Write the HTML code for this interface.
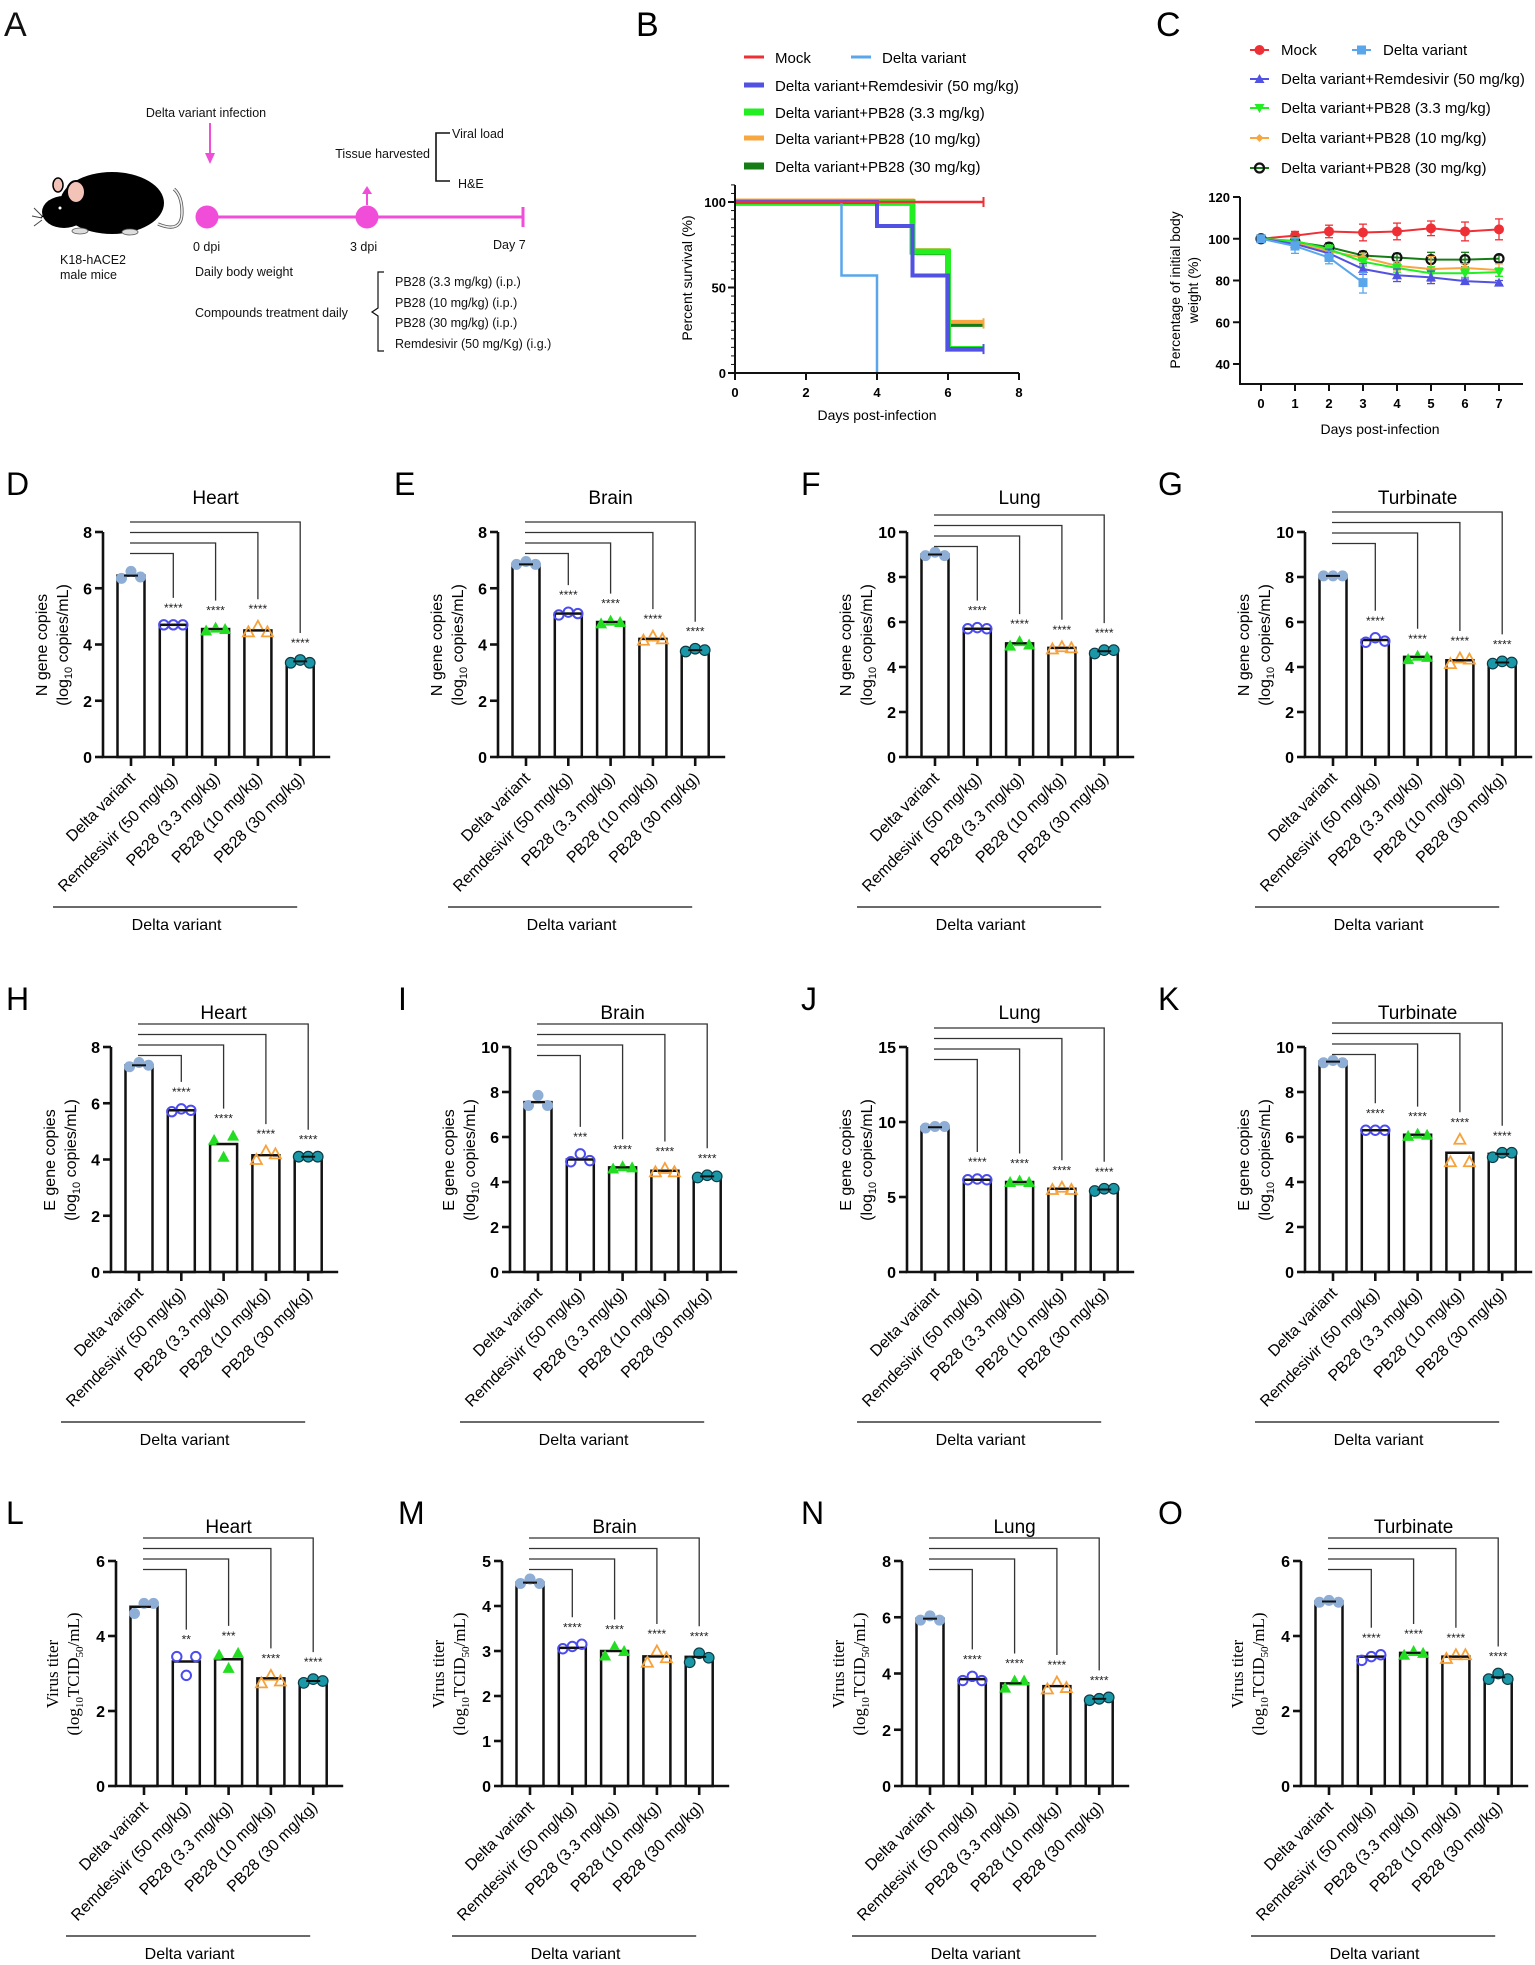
<!DOCTYPE html>
<html><head><meta charset="utf-8"><title>Delta variant PB28 figure</title>
<style>
html,body{margin:0;padding:0;background:#fff;}
svg{display:block;font-family:"Liberation Sans",Arial,sans-serif;}
</style></head>
<body>
<svg id="fig" width="1535" height="1965" viewBox="0 0 1535 1965" xmlns="http://www.w3.org/2000/svg">
<!-- Panel A schematic -->
<g font-size="12.5" fill="#111">
  <text x="4" y="36" font-size="34">A</text>
  <g>
    <path d="M158 224 Q182 234 182 212 Q182 196 174 189" fill="none" stroke="#555" stroke-width="3.2"/>
    <path d="M158 224 Q182 234 182 212 Q182 196 174 189" fill="none" stroke="#eee" stroke-width="1.6"/>
    <ellipse cx="112" cy="203" rx="52" ry="31" fill="#000"/>
    <ellipse cx="64" cy="212" rx="22" ry="16" fill="#000"/>
    <path d="M40 218 L60 198 L80 205 Z" fill="#000"/>
    <ellipse cx="76" cy="192" rx="9" ry="11" fill="#f4c3b8" stroke="#000" stroke-width="2"/>
    <ellipse cx="58" cy="185" rx="5" ry="7" fill="#f4c3b8" stroke="#000" stroke-width="1.5"/>
    <circle cx="60" cy="208" r="1.5" fill="#fff"/>
    <line x1="42" y1="216" x2="34" y2="208" stroke="#444"/><line x1="42" y1="218" x2="32" y2="216" stroke="#444"/><line x1="42" y1="220" x2="34" y2="226" stroke="#444"/>
    <ellipse cx="80" cy="231" rx="8" ry="3" fill="#ddd" stroke="#555" stroke-width="0.8"/>
    <ellipse cx="130" cy="232" rx="8" ry="3" fill="#ddd" stroke="#555" stroke-width="0.8"/>
  </g>
  <text x="60" y="264">K18-hACE2</text>
  <text x="60" y="279">male mice</text>
  <text x="206" y="117" text-anchor="middle">Delta variant infection</text>
  <line x1="210" y1="123" x2="210" y2="155" stroke="#f04ed8" stroke-width="2"/>
  <polygon points="205,153 215,153 210,164" fill="#f04ed8"/>
  <line x1="207" y1="217" x2="523" y2="217" stroke="#f04ed8" stroke-width="3"/>
  <line x1="523" y1="207" x2="523" y2="227" stroke="#f04ed8" stroke-width="3"/>
  <circle cx="207" cy="217" r="11.5" fill="#f04ed8"/>
  <circle cx="367" cy="217" r="11.5" fill="#f04ed8"/>
  <line x1="367" y1="205" x2="367" y2="193" stroke="#f04ed8" stroke-width="2"/>
  <polygon points="362,194 372,194 367,186" fill="#f04ed8"/>
  <text x="193" y="251">0 dpi</text>
  <text x="350" y="251">3 dpi</text>
  <text x="493" y="249">Day 7</text>
  <text x="430" y="158" text-anchor="end">Tissue harvested</text>
  <path d="M450 133 H436 V181 H450" fill="none" stroke="#111" stroke-width="1.6"/>
  <text x="452" y="138">Viral load</text>
  <text x="458" y="188">H&amp;E</text>
  <text x="195" y="276">Daily body weight</text>
  <text x="195" y="317">Compounds treatment daily</text>
  <path d="M384 272 H378 V308 L372 312 L378 316 V351 H384" fill="none" stroke="#111" stroke-width="1.2"/>
  <text x="395" y="286">PB28 (3.3 mg/kg) (i.p.)</text>
  <text x="395" y="307">PB28 (10 mg/kg) (i.p.)</text>
  <text x="395" y="327">PB28 (30 mg/kg) (i.p.)</text>
  <text x="395" y="348">Remdesivir (50 mg/Kg) (i.g.)</text>
</g>
<g id="dyn"></g>
</svg>
<script>
// ---------- Panel B survival data ----------
const survDays = [0,1,2,3,4,5,6,7];
const survMock = [100,100,100,100,100,100,100,100];
const survDelta = [100,100,100,57,0];
const survRem = [100,100,100,100,86,57,14,14];
const survPB3 = [100,100,100,100,100,71,14,14];
const survPB10 = [100,100,100,100,100,71,29,29];
const survPB30 = [100,100,100,100,100,71,29,29];
const survTicksX = [0,2,4,6,8];
const survTicksY = [0,50,100];
// ---------- Panel C body weight data ----------
const wDays = [0,1,2,3,4,5,6,7];
const wMock = [100,101.5,103.5,103,103.5,105,103.5,104.5];
const wMockErr = [1,2,3,4,4,3.5,4.5,5];
const wDelta = [100,96.5,91,79];
const wDeltaErr = [1,3.5,3,5];
const wRem = [100,97.5,93,85.5,82.5,81.5,79.7,79];
const wRemErr = [1,2,2,2.5,3,3,1,1];
const wPB3 = [100,99,95,89,86,83.5,83.5,84];
const wPB3Err = [1,1,2,2,2,3,2,2];
const wPB10 = [100,98,94,91,87,85.5,86,85];
const wPB10Err = [1,1.5,2,2,2,6,2,3];
const wPB30 = [100,98.5,96,92,91,90,90,90.5];
const wPB30Err = [1,1.5,2,2,2,3.5,3.5,1.5];
const wTicksY = [40,60,80,100,120];
// ---------- Bar panel data ----------
const groups = ["Delta variant","Remdesivir (50 mg/kg)","PB28 (3.3 mg/kg)","PB28 (10 mg/kg)","PB28 (30 mg/kg)"];
const dMeans = [6.45,4.7,4.55,4.5,3.4];
const dPts = [[6.35,6.6,6.4],[4.7,4.7,4.7],[4.5,4.6,4.55],[4.45,4.65,4.45],[3.35,3.45,3.35]];
const dStars = ["****","****","****","****"];
const eMeans = [6.85,5.1,4.8,4.2,3.8];
const ePts = [[6.85,6.95,6.85],[5.05,5.15,5.1],[4.75,4.85,4.8],[4.15,4.3,4.2],[3.75,3.85,3.8]];
const eStars = ["****","****","****","****"];
const fMeans = [9.0,5.7,5.05,4.85,4.7];
const fPts = [[8.95,9.1,8.95],[5.7,5.75,5.7],[4.95,5.15,5.0],[4.8,4.9,4.85],[4.6,4.75,4.75]];
const fStars = ["****","****","****","****"];
const gMeans = [8.05,5.2,4.45,4.3,4.2];
const gPts = [[8.05,8.05,8.05],[5.1,5.3,5.15],[4.35,4.5,4.45],[4.15,4.4,4.35],[4.15,4.25,4.2]];
const gStars = ["****","****","****","****"];
const hMeans = [7.35,5.75,4.55,4.15,4.1];
const hPts = [[7.3,7.45,7.35],[5.7,5.8,5.75],[4.7,4.1,4.85],[4.0,4.3,4.2],[4.1,4.1,4.1]];
const hStars = ["****","****","****","****"];
const iMeans = [7.55,5.0,4.65,4.5,4.25];
const iPts = [[7.4,7.85,7.4],[4.9,5.25,4.95],[4.6,4.7,4.65],[4.45,4.6,4.45],[4.2,4.3,4.25]];
const iStars = ["***","****","****","****"];
const jMeans = [9.65,6.15,6.0,5.55,5.5];
const jPts = [[9.6,9.7,9.7],[6.15,6.2,6.15],[6.0,6.1,6.0],[5.5,5.65,5.5],[5.4,5.55,5.55]];
const jStars = ["****","****","****","****"];
const kMeans = [9.35,6.3,6.1,5.3,5.25];
const kPts = [[9.3,9.4,9.3],[6.3,6.3,6.3],[6.05,6.15,6.1],[4.9,5.9,4.9],[5.1,5.3,5.3]];
const kStars = ["****","****","****","****"];
const lMeans = [4.78,3.32,3.38,2.87,2.8];
const lPts = [[4.6,4.87,4.87],[3.45,2.95,3.45],[3.5,3.15,3.55],[2.75,2.95,2.8],[2.75,2.85,2.8]];
const lStars = ["**","***","****","****"];
const mMeans = [4.52,3.07,3.0,2.88,2.87];
const mPts = [[4.5,4.6,4.5],[3.05,3.1,3.15],[2.9,3.1,3.0],[2.75,3.0,2.85],[2.75,2.95,2.85]];
const mStars = ["****","****","****","****"];
const nMeans = [5.95,3.8,3.65,3.55,3.1];
const nPts = [[5.9,6.05,5.9],[3.75,3.9,3.75],[3.5,3.75,3.75],[3.45,3.7,3.5],[3.05,3.1,3.15]];
const nStars = ["****","****","****","****"];
const oMeans = [4.92,3.45,3.55,3.45,2.9];
const oPts = [[4.9,4.95,4.9],[3.35,3.45,3.5],[3.5,3.6,3.55],[3.4,3.5,3.5],[2.85,3.0,2.85]];
const oStars = ["****","****","****","****"];
const ticks8 = [0,2,4,6,8], ticks10 = [0,2,4,6,8,10], ticks15 = [0,5,10,15], ticks6 = [0,2,4,6], ticks5 = [0,1,2,3,4,5];

const NS = "http://www.w3.org/2000/svg";
const root = document.getElementById('dyn');
function mk(tag, attrs, parent){
  const el = document.createElementNS(NS, tag);
  for (const k in attrs) el.setAttribute(k, attrs[k]);
  (parent||root).appendChild(el);
  return el;
}
function txt(s, attrs, parent){ const t = mk('text', attrs, parent); t.textContent = s; return t; }

// ================= Panel B =================
(function(){
  const g = mk('g', {});
  
  
  const xB = d => 735 + d*35.5;
  const yB = p => 373 - p*1.71;
  let t = txt('B', {x:636, y:36, 'font-size':34}, g);
  
  
  const series = [
    {n:'PB28 (30 mg/kg)', d:survPB30, c:'#167d16', w:4, dy:1.5},
    {n:'PB28 (10 mg/kg)', d:survPB10, c:'#f7a640', w:4, dy:-1.5},
    {n:'PB28 (3.3 mg/kg)', d:survPB3, c:'#22ee22', w:6, dy:0},
    {n:'Remdesivir', d:survRem, c:'#5252e2', w:4, dy:0},
    {n:'Delta variant', d:survDelta, c:'#5aa6ea', w:2.5, dy:0},
    {n:'Mock', d:survMock, c:'#ee3036', w:2.5, dy:0}
  ];
  series.forEach(s=>{
    let p = 'M' + xB(survDays[0]) + ' ' + (yB(s.d[0])+s.dy);
    for (let i=1;i<s.d.length;i++){ p += ' H' + xB(survDays[i]) + ' V' + (yB(s.d[i])+s.dy); }
    const path = mk('path', {d:p, fill:'none', stroke:s.c, 'stroke-width':s.w}, g);
    
    
    if (s.d.length === 8){ mk('line', {x1:xB(7), x2:xB(7), y1:yB(s.d[7])-5, y2:yB(s.d[7])+5, stroke:s.c, 'stroke-width':2}, g); }
  });
  const ax = mk('path', {d:'M735 185 V373 H1019', fill:'none', stroke:'#111', 'stroke-width':2}, g);
  
  
  for (let v=0; v<=110; v+=5){ mk('line', {x1:731, x2:735, y1:yB(v), y2:yB(v), stroke:'#111', 'stroke-width':1}, g); }
  survTicksY.forEach(v=>{
    mk('line', {x1:728, x2:735, y1:yB(v), y2:yB(v), stroke:'#111', 'stroke-width':2}, g);
    const tl = txt(String(v), {x:726, y:yB(v)+5, 'text-anchor':'end', 'font-size':13, 'font-weight':'bold'}, g);
    
    
  });
  survTicksX.forEach(v=>{
    mk('line', {x1:xB(v), x2:xB(v), y1:373, y2:380, stroke:'#111', 'stroke-width':2}, g);
    const tl = txt(String(v), {x:xB(v), y:397, 'text-anchor':'middle', 'font-size':13, 'font-weight':'bold'}, g);
    
    
  });
  t = txt('Days post-infection', {x:877, y:420, 'text-anchor':'middle', 'font-size':14}, g);
  
  
  t = txt('Percent survival (%)', {x:0, y:0, 'text-anchor':'middle', 'font-size':14, transform:'translate(692,278) rotate(-90)'}, g);
  
  
  const leg = [
    ['Mock','#ee3036',744,58,3],['Delta variant','#5aa6ea',851,58,3],
    ['Delta variant+Remdesivir (50 mg/kg)','#5252e2',744,86,5],
    ['Delta variant+PB28 (3.3 mg/kg)','#22ee22',744,113,7],
    ['Delta variant+PB28 (10 mg/kg)','#f7a640',744,139,5],
    ['Delta variant+PB28 (30 mg/kg)','#167d16',744,167,7]
  ];
  leg.forEach(l=>{
    const lg = mk('g', {}, g);
    
    
    mk('rect', {x:l[2], y:l[3]-l[4]/2-1, width:20, height:l[4], fill:l[1]}, lg);
    txt(l[0], {x:l[2]+31, y:l[3]+5, 'font-size':15}, lg);
  });
})();

// ================= Panel C =================
(function(){
  const g = mk('g', {});
  
  
  const xC = d => 1261 + d*34;
  const yC = v => 364 - (v-40)*2.0875;
  let t = txt('C', {x:1156, y:36, 'font-size':34}, g);
  
  
  const series = [
    {n:'mock', d:wMock, e:wMockErr, c:'#ee3036', m:'circle'},
    {n:'pb28-30', d:wPB30, e:wPB30Err, c:'#167d16', m:'ocircle'},
    {n:'pb28-10', d:wPB10, e:wPB10Err, c:'#f7a640', m:'diamond'},
    {n:'pb28-3', d:wPB3, e:wPB3Err, c:'#22ee22', m:'tridown'},
    {n:'remdesivir', d:wRem, e:wRemErr, c:'#5252e2', m:'triup'},
    {n:'delta', d:wDelta, e:wDeltaErr, c:'#5aa6ea', m:'square'}
  ];
  function mark(parent, m, x, y, c){
    if (m==='circle') return mk('circle', {cx:x, cy:y, r:5, fill:c}, parent);
    if (m==='ocircle') return mk('circle', {cx:x, cy:y, r:4.5, fill:'none', stroke:'#111', 'stroke-width':2.2}, parent);
    if (m==='square') return mk('rect', {x:x-4.5, y:y-4.5, width:9, height:9, fill:c}, parent);
    if (m==='triup') return mk('polygon', {points:`${x-5},${y+4} ${x+5},${y+4} ${x},${y-5}`, fill:c}, parent);
    if (m==='tridown') return mk('polygon', {points:`${x-5},${y-4} ${x+5},${y-4} ${x},${y+5}`, fill:c}, parent);
    return mk('polygon', {points:`${x-4},${y} ${x},${y-4} ${x+4},${y} ${x},${y+4}`, fill:c}, parent);
  }
  series.forEach(s=>{
    const sg = mk('g', {}, g);
    
    
    s.d.forEach((v,i)=>{
      const x = xC(wDays[i]);
      mk('line', {x1:x, x2:x, y1:yC(v+s.e[i]), y2:yC(v-s.e[i]), stroke:s.c, 'stroke-width':1.3}, sg);
      mk('line', {x1:x-4, x2:x+4, y1:yC(v+s.e[i]), y2:yC(v+s.e[i]), stroke:s.c, 'stroke-width':1.3}, sg);
      mk('line', {x1:x-4, x2:x+4, y1:yC(v-s.e[i]), y2:yC(v-s.e[i]), stroke:s.c, 'stroke-width':1.3}, sg);
    });
    const pts = s.d.map((v,i)=> xC(wDays[i]) + ',' + yC(v)).join(' ');
    mk('polyline', {points:pts, fill:'none', stroke:s.c, 'stroke-width':2}, sg);
    s.d.forEach((v,i)=>{
      const mkEl = mark(sg, s.m, xC(wDays[i]), yC(v), s.c);
      
      
    });
  });
  const ax = mk('path', {d:'M1240 197 V384 H1523', fill:'none', stroke:'#111', 'stroke-width':2}, g);
  
  
  wTicksY.forEach(v=>{
    mk('line', {x1:1233, x2:1240, y1:yC(v), y2:yC(v), stroke:'#111', 'stroke-width':2}, g);
    const tl = txt(String(v), {x:1230, y:yC(v)+5, 'text-anchor':'end', 'font-size':13, 'font-weight':'bold'}, g);
    
    
  });
  wDays.forEach(v=>{
    mk('line', {x1:xC(v), x2:xC(v), y1:384, y2:391, stroke:'#111', 'stroke-width':2}, g);
    const tl = txt(String(v), {x:xC(v), y:408, 'text-anchor':'middle', 'font-size':13, 'font-weight':'bold'}, g);
    
    
  });
  t = txt('Days post-infection', {x:1380, y:434, 'text-anchor':'middle', 'font-size':14}, g);
  
  
  t = txt('Percentage of initial body', {x:0, y:0, 'text-anchor':'middle', 'font-size':14, transform:'translate(1180,290) rotate(-90)'}, g);
  
  
  t = txt('weight (%)', {x:0, y:0, 'text-anchor':'middle', 'font-size':14, transform:'translate(1198,290) rotate(-90)'}, g);
  
  
  const leg = [
    ['Mock','#ee3036',1250,50,'circle'],['Delta variant','#5aa6ea',1352,50,'square'],
    ['Delta variant+Remdesivir (50 mg/kg)','#5252e2',1250,79,'triup'],
    ['Delta variant+PB28 (3.3 mg/kg)','#22ee22',1250,108,'tridown'],
    ['Delta variant+PB28 (10 mg/kg)','#f7a640',1250,138,'diamond'],
    ['Delta variant+PB28 (30 mg/kg)','#167d16',1250,168,'ocircle']
  ];
  leg.forEach(l=>{
    const lg = mk('g', {}, g);
    
    
    mk('line', {x1:l[2], x2:l[2]+19, y1:l[3], y2:l[3], stroke:l[1], 'stroke-width':2}, lg);
    mark(lg, l[4], l[2]+9.5, l[3], l[1]);
    txt(l[0], {x:l[2]+31, y:l[3]+5, 'font-size':15}, lg);
  });
})();

// ================= Bar panels =================
const gColors = ['#8eaed6','#4b4bf0','#22dd22','#f7a13a','#1b98a8'];
function drawMarker(parent, gi, x, y){
  let el;
  if (gi===0) el = mk('circle', {cx:x, cy:y, r:5.5, fill:gColors[0]}, parent);
  else if (gi===1) el = mk('circle', {cx:x, cy:y, r:4.7, fill:'none', stroke:gColors[1], 'stroke-width':2}, parent);
  else if (gi===2) el = mk('polygon', {points:`${x-6},${y+5} ${x+6},${y+5} ${x},${y-6}`, fill:gColors[2]}, parent);
  else if (gi===3) el = mk('polygon', {points:`${x-5.5},${y+4.5} ${x+5.5},${y+4.5} ${x},${y-5.5}`, fill:'none', stroke:gColors[3], 'stroke-width':1.8}, parent);
  else el = mk('circle', {cx:x, cy:y, r:5.3, fill:gColors[4], stroke:'#0b3a45', 'stroke-width':1.2}, parent);
  return el;
}
function barPanel(c){
  const g = mk('g', {});
  
  
  const top = c.y0 - 225;
  const y = v => c.y0 - v/c.max*225;
  const bx = i => c.ax + 28 + i*42.3;
  let t = txt(c.letter, {x:c.lx, y:c.y0-262, 'font-size':32}, g);
  
  
  t = txt(c.title, {x:bx(2), y:top-28, 'text-anchor':'middle', 'font-size':19}, g);
  
  
  c.means.forEach((m,i)=>{
    const r = mk('rect', {x:bx(i)-13.5, y:y(m), width:27, height:c.y0-y(m), fill:'#fff', stroke:'#111', 'stroke-width':2.5}, g);
    
    
  });
  c.pts.forEach((arr,i)=>{
    arr.forEach((v,j)=>{
      const p = drawMarker(g, i, bx(i) + (j-1)*9.5, y(v));
      
      
    });
    mk('line', {x1:bx(i)-7, x2:bx(i)+7, y1:y(c.means[i]), y2:y(c.means[i]), stroke:'#111', 'stroke-width':2}, g);
  });
  const ax = mk('path', {d:`M${c.ax} ${top} V${c.y0} H${bx(4)+30}`, fill:'none', stroke:'#111', 'stroke-width':2.6}, g);
  
  
  c.ticks.forEach(v=>{
    mk('line', {x1:c.ax-8, x2:c.ax, y1:y(v), y2:y(v), stroke:'#111', 'stroke-width':2.6}, g);
    const tl = txt(String(v), {x:c.ax-11, y:y(v)+6, 'text-anchor':'end', 'font-size':16, 'font-weight':'bold'}, g);
    
    
  });
  groups.forEach((n,i)=>{
    mk('line', {x1:bx(i), x2:bx(i), y1:c.y0, y2:c.y0+9, stroke:'#111', 'stroke-width':2.6}, g);
    const tl = txt(n, {x:0, y:0, 'text-anchor':'end', 'font-size':16, transform:`translate(${bx(i)+5},${c.y0+22}) rotate(-45)`}, g);
    
    
  });
  for (let k=0;k<4;k++){
    const i = k+1;
    const mx = Math.max(...c.pts[i]);
    const sy = y(mx) - 13;
    const st = txt(c.stars[k], {x:bx(i), y:sy, 'text-anchor':'middle', 'font-size':12, fill:'#222'}, g);
    
    
    const by = top + c.bt + (3-k)*10.5;
    const br = mk('path', {d:`M${bx(0)-1} ${by} H${bx(i)} V${sy-14}`, fill:'none', stroke:'#333', 'stroke-width':1.3}, g);
    
    
  }
  const yt1 = txt(c.yt, {x:0, y:0, 'text-anchor':'middle', 'font-size':c.serif?17:16, 'font-family':c.serif?'Liberation Serif, serif':'Liberation Sans, sans-serif', transform:`translate(${c.ax-(c.serif?58:56)},${c.y0-112}) rotate(-90)`}, g);
  
  
  const yt2 = mk('text', {x:0, y:0, 'text-anchor':'middle', 'font-size':c.serif?17:16, 'font-family':c.serif?'Liberation Serif, serif':'Liberation Sans, sans-serif', transform:`translate(${c.ax-(c.serif?37:35)},${c.y0-112}) rotate(-90)`}, g);
  
  
  const parts = c.serif ? [['(log',0],['10',1],['TCID',0],['50',1],['/mL)',0]] : [['(log',0],['10',1],[' copies/mL)',0]];
  let shifted = false;
  parts.forEach(p=>{
    let dy = 0;
    if (p[1] && !shifted) { dy = 4; shifted = true; }
    else if (!p[1] && shifted) { dy = -4; shifted = false; }
    const ts = mk('tspan', p[1]?{'font-size':11,dy:dy}:{dy:dy}, yt2);
    ts.textContent = p[0];
  });
  const gl = mk('line', {x1:c.ax-50, x2:bx(4)-3, y1:c.y0+150, y2:c.y0+150, stroke:'#111', 'stroke-width':1.3}, g);
  
  
  const gt = txt('Delta variant', {x:(c.ax-50+bx(4))/2, y:c.y0+173, 'text-anchor':'middle', 'font-size':16}, g);
  
  
}
const NT = 'N gene copies', ET = 'E gene copies', VT = 'Virus titer';
barPanel({letter:'D', lx:6, ax:103, y0:757, max:8, ticks:ticks8, means:dMeans, pts:dPts, stars:dStars, title:'Heart', yt:NT, bt:-10});
barPanel({letter:'E', lx:394, ax:498, y0:757, max:8, ticks:ticks8, means:eMeans, pts:ePts, stars:eStars, title:'Brain', yt:NT, bt:-10});
barPanel({letter:'F', lx:801, ax:907, y0:757, max:10, ticks:ticks10, means:fMeans, pts:fPts, stars:fStars, title:'Lung', yt:NT, bt:-17});
barPanel({letter:'G', lx:1158, ax:1305, y0:757, max:10, ticks:ticks10, means:gMeans, pts:gPts, stars:gStars, title:'Turbinate', yt:NT, bt:-20});
barPanel({letter:'H', lx:6, ax:111, y0:1272, max:8, ticks:ticks8, means:hMeans, pts:hPts, stars:hStars, title:'Heart', yt:ET, bt:-23});
barPanel({letter:'I', lx:398, ax:510, y0:1272, max:10, ticks:ticks10, means:iMeans, pts:iPts, stars:iStars, title:'Brain', yt:ET, bt:-23});
barPanel({letter:'J', lx:801, ax:907, y0:1272, max:15, ticks:ticks15, means:jMeans, pts:jPts, stars:jStars, title:'Lung', yt:ET, bt:-19});
barPanel({letter:'K', lx:1158, ax:1305, y0:1272, max:10, ticks:ticks10, means:kMeans, pts:kPts, stars:kStars, title:'Turbinate', yt:ET, bt:-24});
barPanel({letter:'L', lx:6, ax:116, y0:1786, max:6, ticks:ticks6, means:lMeans, pts:lPts, stars:lStars, title:'Heart', yt:VT, bt:-23, serif:true});
barPanel({letter:'M', lx:398, ax:502, y0:1786, max:5, ticks:ticks5, means:mMeans, pts:mPts, stars:mStars, title:'Brain', yt:VT, bt:-23, serif:true});
barPanel({letter:'N', lx:801, ax:902, y0:1786, max:8, ticks:ticks8, means:nMeans, pts:nPts, stars:nStars, title:'Lung', yt:VT, bt:-23, serif:true});
barPanel({letter:'O', lx:1158, ax:1301, y0:1786, max:6, ticks:ticks6, means:oMeans, pts:oPts, stars:oStars, title:'Turbinate', yt:VT, bt:-23, serif:true});
</script>
</body></html>
